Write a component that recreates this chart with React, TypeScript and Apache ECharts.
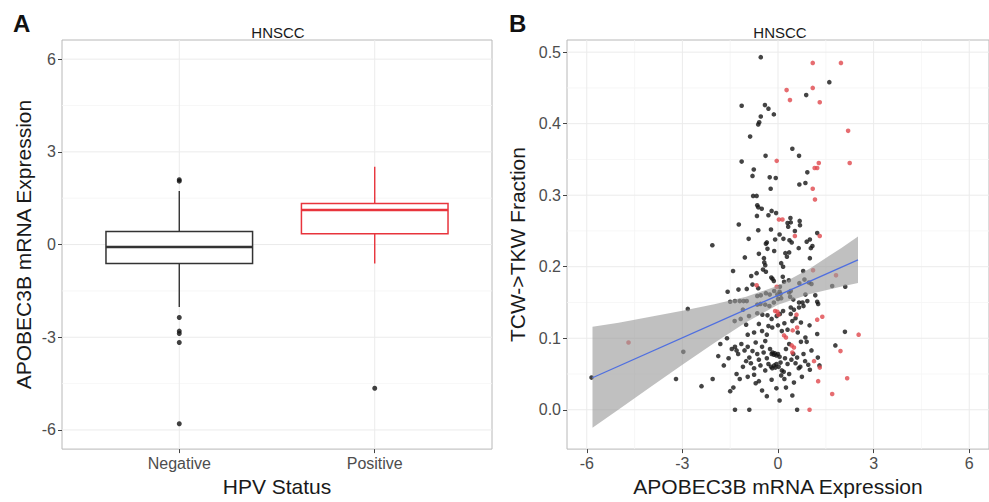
import React, { useEffect, useRef } from 'react';
import * as echarts from 'echarts';

// ---------- Panel A data (box plot) ----------
const hpvCategories = ['Negative', 'Positive'];
const boxPositions = [1, 2];
const boxMin = [-2.02, -0.61];
const boxQ1 = [-0.61, 0.35];
const boxMedian = [-0.08, 1.12];
const boxQ3 = [0.42, 1.33];
const boxMax = [1.73, 2.52];
const outlierGroup = [1, 1, 1, 1, 1, 1, 1, 2];
const outlierValues = [2.1, 2.05, -2.36, -2.8, -2.88, -3.17, -5.8, -4.65];
const exprTicks = [-6, -3, 0, 3, 6];
const exprMinorTicks = [-4.5, -1.5, 1.5, 4.5];

// ---------- Panel B data (scatter) ----------
const hpvNegPoints: [number, number][] = [
  [-0.54, 0.493], [1.61, 0.458], [0.885, 0.44], [-1.14, 0.425], [-0.41, 0.426], [-0.3, 0.421],
  [-0.54, 0.41], [-0.13, 0.413], [-0.59, 0.402], [-0.62, 0.399],
  [-0.875, 0.382], [-1.14, 0.347], [-0.39, 0.355], [0.45, 0.365], [0.66, 0.355], [-0.76, 0.336],
  [-0.8, 0.327], [-0.26, 0.325], [-0.07, 0.324], [-0.23, 0.309], [0.92, 0.332], [0.67, 0.315],
  [0.86, 0.317], [-0.78, 0.299], [-0.67, 0.299],
  [-0.65, 0.286], [-0.62, 0.283], [-0.51, 0.281], [-0.2, 0.278], [-0.06, 0.275], [-0.66, 0.271],
  [-0.3, 0.272], [-1.23, 0.259], [0.3, 0.261], [0.39, 0.268], [0.68, 0.264], [0.69, 0.258],
  [-0.62, 0.251], [-0.22, 0.252], [1.23, 0.247], [0.53, 0.25], [0.32, 0.256], [0.4, 0.262],
  [-0.92, 0.239], [-0.35, 0.234], [-0.38, 0.232], [-0.09, 0.238], [0.17, 0.239], [0.36, 0.237],
  [0.43, 0.234], [0.9, 0.235], [1.0, 0.238], [-2.06, 0.23], [1.08, 0.229], [0.65, 0.226],
  [0.35, 0.22], [0.23, 0.219], [1.03, 0.226], [-0.33, 0.225], [-1.04, 0.213], [-0.44, 0.212],
  [1.0, 0.212], [-0.43, 0.206], [-0.4, 0.202], [0.1, 0.205], [0.16, 0.2], [0.05, 0.245],
  [-0.12, 0.222], [0.28, 0.214], [-0.6, 0.218],
  [-0.47, 0.196], [-0.38, 0.193], [-1.41, 0.194], [0.79, 0.194], [-0.67, 0.191], [-0.21, 0.185],
  [-0.13, 0.18], [-0.17, 0.183], [0.15, 0.186], [0.34, 0.181], [0.19, 0.179], [-0.84, 0.187],
  [-0.8, 0.175], [0.67, 0.177], [0.83, 0.182], [0.97, 0.178], [1.05, 0.176], [2.11, 0.172],
  [1.7, 0.173], [-1.58, 0.165], [-1.24, 0.168], [-0.98, 0.169], [-0.62, 0.17], [0.06, 0.172],
  [0.4, 0.166], [0.35, 0.164], [0.05, 0.165], [0.86, 0.161], [1.17, 0.16], [-1.5, 0.151],
  [-1.35, 0.152], [-1.2, 0.152], [-1.08, 0.152], [-0.98, 0.152], [-0.65, 0.159], [-0.54, 0.16],
  [-0.38, 0.163], [-0.26, 0.161], [-0.12, 0.166], [-0.02, 0.161], [0.08, 0.162], [0.38, 0.158],
  [0.48, 0.154], [0.66, 0.15], [0.77, 0.15], [0.92, 0.152], [1.23, 0.151], [1.26, 0.148],
  [-2.83, 0.141], [-1.1, 0.14], [-0.65, 0.147], [-0.55, 0.148], [-0.4, 0.147], [-0.27, 0.145],
  [-0.13, 0.15], [0.0, 0.155], [0.1, 0.156], [0.4, 0.143], [0.5, 0.14], [0.66, 0.143],
  [0.8, 0.145], [-1.36, 0.124], [-1.17, 0.127], [-0.91, 0.131], [-0.65, 0.135], [-0.49, 0.133],
  [-0.33, 0.132], [-0.2, 0.127], [-0.04, 0.131], [0.06, 0.134], [0.16, 0.138], [0.4, 0.134],
  [0.55, 0.128], [0.45, 0.124], [0.72, 0.122], [0.99, 0.118], [1.23, 0.106], [-1.6, 0.1],
  [-0.95, 0.105], [-0.75, 0.108], [-0.5, 0.11], [-0.35, 0.105], [-0.18, 0.115], [0.0, 0.118],
  [0.12, 0.11], [0.2, 0.121], [0.3, 0.112], [0.62, 0.108], [0.86, 0.101], [2.1, 0.109],
  [-1.0, 0.119], [-0.6, 0.12], [-0.3, 0.117],
  [-1.81, 0.092], [-1.875, 0.075], [-2.97, 0.081], [-1.7, 0.062], [-1.45, 0.085], [-1.35, 0.088],
  [-1.3, 0.083], [-1.25, 0.078], [-1.15, 0.092], [-1.05, 0.083], [-0.95, 0.088], [-0.9, 0.073],
  [-0.85, 0.065], [-0.8, 0.082], [-0.7, 0.094], [-0.65, 0.078], [-0.6, 0.07], [-0.55, 0.062],
  [-0.5, 0.088], [-0.45, 0.08], [-0.4, 0.096], [-0.35, 0.072], [-0.3, 0.064], [-0.25, 0.085],
  [-0.2, 0.078], [-0.17, 0.08], [-0.13, 0.077], [-0.1, 0.079], [-0.05, 0.076], [0.0, 0.078],
  [0.05, 0.074], [-0.22, 0.06], [-0.18, 0.058], [-0.12, 0.062], [-0.08, 0.059], [-0.05, 0.064],
  [0.02, 0.06], [0.08, 0.066], [0.12, 0.055], [0.18, 0.053], [0.22, 0.072], [0.25, 0.085],
  [0.3, 0.064], [0.35, 0.092], [0.42, 0.07], [0.48, 0.078], [0.55, 0.065], [0.6, 0.073],
  [0.65, 0.058], [0.7, 0.06], [0.72, 0.095], [0.8, 0.078], [0.85, 0.068], [0.9, 0.095],
  [1.05, 0.083], [1.25, 0.073], [1.3, 0.062], [1.8, 0.09], [-1.1, 0.06], [-1.0, 0.068],
  [-0.75, 0.058], [-0.4, 0.055], [0.35, 0.05], [0.95, 0.063], [1.0, 0.056], [-1.55, 0.072],
  [-5.85, 0.045], [-3.2, 0.043], [-2.4, 0.033], [-2.05, 0.043], [-1.5, 0.026], [-1.4, 0.031],
  [-1.3, 0.05], [-1.2, 0.043], [-0.95, 0.046], [-0.75, 0.049], [-0.7, 0.037], [-0.5, 0.027],
  [-0.35, 0.019], [-0.05, 0.03], [0.05, 0.013], [0.2, 0.043], [0.45, 0.02], [0.5, 0.038],
  [0.75, 0.046], [0.25, 0.031], [-1.35, 0.0], [-0.9, 0.0], [0.6, 0.0], [-0.6, 0.04],
  [-0.2, 0.042], [0.1, 0.048],
];
const hpvPosPoints: [number, number][] = [
  [1.09, 0.485], [1.975, 0.485], [0.27, 0.447], [1.09, 0.45], [0.375, 0.433], [1.31, 0.43],
  [2.2, 0.39], [-0.04, 0.348], [1.28, 0.345], [2.25, 0.345], [1.15, 0.338], [1.23, 0.338],
  [1.09, 0.309], [1.16, 0.294], [0.03, 0.266], [0.14, 0.266], [0.53, 0.243], [1.31, 0.243],
  [1.82, 0.188], [-0.67, 0.174], [-0.04, 0.172], [-4.69, 0.094], [-0.09, 0.138], [-0.02, 0.137],
  [0.01, 0.133], [0.58, 0.133], [1.39, 0.13], [1.23, 0.126], [0.46, 0.111], [2.53, 0.105],
  [0.19, 0.104], [0.25, 0.101], [0.43, 0.09], [0.5, 0.087], [1.96, 0.082], [1.13, 0.068],
  [1.31, 0.059], [1.26, 0.04], [2.17, 0.044], [1.7, 0.022], [0.99, 0.0], [0.45, 0.08],
  [0.6, 0.115], [1.1, 0.195],
];
const fitX = [-5.82, 2.51];
const fitY = [0.0448, 0.2097];
const bandX = [-5.82, -5, -4, -3, -2, -1, 0, 1, 2, 2.51];
const bandLower = [-0.025, 0.0005, 0.0317, 0.0628, 0.0933, 0.1224, 0.1467, 0.162, 0.1725, 0.1772];
const bandUpper = [0.116, 0.1215, 0.1299, 0.1385, 0.1475, 0.158, 0.1733, 0.1976, 0.2267, 0.2422];
const fractionTicks = [0, 0.1, 0.2, 0.3, 0.4, 0.5];
const fractionMinorTicks = [0.05, 0.15, 0.25, 0.35, 0.45];

// ---------- Styles ----------
const FONT = 'Liberation Sans, Arial, Helvetica, sans-serif';
const BOX_COLORS = ['#333333', '#e8343c'];
const GRID_MAJOR = '#ebebeb';
const GRID_MINOR = '#f5f5f5';

// Gridline series drawn through a custom series (below all marks)
function gridSeries(
  xIdx: number, xRange: [number, number], yRange: [number, number],
  xMajor: number[], xMinor: number[], yMajor: number[], yMinor: number[],
) {
  const lines: [string, number, number][] = [
    ...xMinor.map((v) => ['x', v, 0] as [string, number, number]),
    ...yMinor.map((v) => ['y', v, 0] as [string, number, number]),
    ...xMajor.map((v) => ['x', v, 1] as [string, number, number]),
    ...yMajor.map((v) => ['y', v, 1] as [string, number, number]),
  ];
  return {
    type: 'custom', xAxisIndex: xIdx, yAxisIndex: xIdx, silent: true, z: 0,
    data: lines.map((_, i) => [i]),
    encode: { x: -1, y: -1 },
    renderItem: (params: any, api: any) => {
      const [kind, v, major] = lines[params.dataIndex];
      const a = kind === 'x' ? api.coord([v, yRange[0]]) : api.coord([xRange[0], v]);
      const b = kind === 'x' ? api.coord([v, yRange[1]]) : api.coord([xRange[1], v]);
      return {
        type: 'line',
        shape: { x1: a[0], y1: a[1], x2: b[0], y2: b[1] },
        style: { stroke: major ? GRID_MAJOR : GRID_MINOR, lineWidth: major ? 1 : 0.8 },
      };
    },
  };
}

export default function App() {
  const ref = useRef<HTMLDivElement>(null);

  useEffect(() => {
    if (!ref.current) return;
    const chart = echarts.init(ref.current, undefined, { renderer: 'svg' });

    const tickStyle = { show: true, inside: false, length: 4, lineStyle: { color: '#444', width: 1 } };
    const labelStyle = { color: '#4d4d4d', fontSize: 16, fontFamily: FONT };
    const nameStyle = { color: '#1a1a1a', fontSize: 21, fontFamily: FONT };
    const noLine = { show: false, onZero: false };

    const option: any = {
      animation: false,
      backgroundColor: '#ffffff',
      grid: [
        { left: 62, top: 40, width: 430, height: 420, show: true, borderColor: '#b8b8b8', borderWidth: 1, containLabel: false },
        { left: 567, top: 40, width: 426, height: 421, show: true, borderColor: '#b8b8b8', borderWidth: 1, containLabel: false },
      ],
      xAxis: [
        {
          type: 'value', gridIndex: 0, min: 0.4, max: 2.6, position: 'bottom',
          axisLine: noLine, splitLine: { show: false },
          axisTick: { ...tickStyle, customValues: boxPositions },
          axisLabel: {
            ...labelStyle, margin: 6, customValues: boxPositions,
            formatter: (v: number) => hpvCategories[Math.round(v) - 1] ?? '',
          },
          name: 'HPV Status', nameLocation: 'middle', nameGap: 25, nameTextStyle: nameStyle,
        },
        {
          type: 'value', gridIndex: 1, min: -6.62, max: 6.62, position: 'bottom',
          axisLine: noLine, splitLine: { show: false },
          axisTick: { ...tickStyle, customValues: exprTicks },
          axisLabel: { ...labelStyle, margin: 6, customValues: exprTicks, formatter: (v: number) => String(v) },
          name: 'APOBEC3B mRNA Expression', nameLocation: 'middle', nameGap: 21, nameTextStyle: nameStyle,
        },
      ],
      yAxis: [
        {
          type: 'value', gridIndex: 0, min: -6.62, max: 6.62, position: 'left',
          axisLine: noLine, splitLine: { show: false },
          axisTick: { ...tickStyle, customValues: exprTicks },
          axisLabel: { ...labelStyle, margin: 6, customValues: exprTicks, formatter: (v: number) => String(v) },
          name: 'APOBEC3B mRNA Expression', nameLocation: 'middle', nameGap: 28, nameRotate: 90, nameTextStyle: nameStyle,
        },
        {
          type: 'value', gridIndex: 1, min: -0.055, max: 0.517, position: 'left',
          axisLine: noLine, splitLine: { show: false },
          axisTick: { ...tickStyle, customValues: fractionTicks },
          axisLabel: { ...labelStyle, margin: 6, customValues: fractionTicks, formatter: (v: number) => v.toFixed(1) },
          name: 'TCW->TKW Fraction', nameLocation: 'middle', nameGap: 39, nameRotate: 90, nameTextStyle: nameStyle,
        },
      ],
      graphic: [
        { type: 'text', x: 13, y: 23, style: { text: 'A', fontSize: 24, fontWeight: 'bold', fontFamily: FONT, fill: '#111', textAlign: 'left', textVerticalAlign: 'middle' } },
        { type: 'text', x: 509, y: 23, style: { text: 'B', fontSize: 24, fontWeight: 'bold', fontFamily: FONT, fill: '#111', textAlign: 'left', textVerticalAlign: 'middle' } },
        { type: 'text', x: 278, y: 32, style: { text: 'HNSCC', fontSize: 15, fontFamily: FONT, fill: '#1a1a1a', textAlign: 'center', textVerticalAlign: 'middle' } },
        { type: 'text', x: 780, y: 32, style: { text: 'HNSCC', fontSize: 15, fontFamily: FONT, fill: '#1a1a1a', textAlign: 'center', textVerticalAlign: 'middle' } },
      ],
      series: [
        gridSeries(0, [0.4, 2.6], [-6.62, 6.62], boxPositions, [], exprTicks, exprMinorTicks),
        gridSeries(1, [-6.62, 6.62], [-0.055, 0.517], exprTicks, [-4.5, -1.5, 1.5, 4.5], fractionTicks, fractionMinorTicks),
        // boxes
        {
          type: 'custom', xAxisIndex: 0, yAxisIndex: 0, z: 2,
          data: boxPositions.map((p, i) => [p, boxMin[i], boxQ1[i], boxMedian[i], boxQ3[i], boxMax[i]]),
          encode: { x: 0, y: [1, 2, 3, 4, 5] },
          renderItem: (params: any, api: any) => {
            const i = params.dataIndex;
            const x = api.value(0);
            const hw = 0.375;
            const color = BOX_COLORS[i];
            const pMin = api.coord([x, api.value(1)]);
            const pQ1 = api.coord([x, api.value(2)]);
            const pQ3 = api.coord([x, api.value(4)]);
            const pMax = api.coord([x, api.value(5)]);
            const lt = api.coord([x - hw, api.value(4)]);
            const rb = api.coord([x + hw, api.value(2)]);
            const ml = api.coord([x - hw, api.value(3)]);
            const mr = api.coord([x + hw, api.value(3)]);
            return {
              type: 'group',
              children: [
                { type: 'line', shape: { x1: pMax[0], y1: pMax[1], x2: pQ3[0], y2: pQ3[1] }, style: { stroke: color, lineWidth: 1.4 } },
                { type: 'line', shape: { x1: pQ1[0], y1: pQ1[1], x2: pMin[0], y2: pMin[1] }, style: { stroke: color, lineWidth: 1.4 } },
                { type: 'rect', shape: { x: lt[0], y: lt[1], width: rb[0] - lt[0], height: rb[1] - lt[1] }, style: { fill: '#ffffff', stroke: color, lineWidth: 1.5 } },
                { type: 'line', shape: { x1: ml[0], y1: ml[1], x2: mr[0], y2: mr[1] }, style: { stroke: color, lineWidth: 2.4 } },
              ],
            };
          },
        },
        // outliers
        {
          type: 'scatter', xAxisIndex: 0, yAxisIndex: 0, symbolSize: 5, z: 3,
          itemStyle: { color: '#111111' },
          data: outlierGroup.map((g, i) => [g, outlierValues[i]]),
        },
        // HPV negative points
        {
          type: 'scatter', xAxisIndex: 1, yAxisIndex: 1, symbolSize: 4.6, z: 3,
          itemStyle: { color: '#151515' },
          data: hpvNegPoints,
        },
        // HPV positive points
        {
          type: 'scatter', xAxisIndex: 1, yAxisIndex: 1, symbolSize: 4.6, z: 3,
          itemStyle: { color: '#e0474c' },
          data: hpvPosPoints,
        },
        // confidence band
        {
          type: 'custom', xAxisIndex: 1, yAxisIndex: 1, silent: true, z: 4,
          data: bandX.map((x, i) => [x, bandLower[i], bandUpper[i]]),
          encode: { x: 0, y: [1, 2] },
          renderItem: (params: any, api: any) => {
            if (params.dataIndex !== 0) return null;
            const pts: number[][] = [];
            for (let i = 0; i < bandX.length; i++) pts.push(api.coord([bandX[i], bandUpper[i]]));
            for (let i = bandX.length - 1; i >= 0; i--) pts.push(api.coord([bandX[i], bandLower[i]]));
            return { type: 'polygon', shape: { points: pts }, style: { fill: 'rgba(153,153,153,0.62)' } };
          },
        },
        // regression line
        {
          type: 'line', xAxisIndex: 1, yAxisIndex: 1, symbol: 'none', silent: true, z: 5,
          lineStyle: { color: '#4f6fe0', width: 1.3 },
          data: fitX.map((x, i) => [x, fitY[i]]),
        },
      ],
    };

    chart.setOption(option);
    return () => chart.dispose();
  }, []);

  return (
    <div style={{ position: 'fixed', left: 0, top: 0, width: 989, height: 502, overflow: 'hidden', background: '#fff' }}>
      <div ref={ref} style={{ width: 989, height: 502 }} />
    </div>
  );
}
